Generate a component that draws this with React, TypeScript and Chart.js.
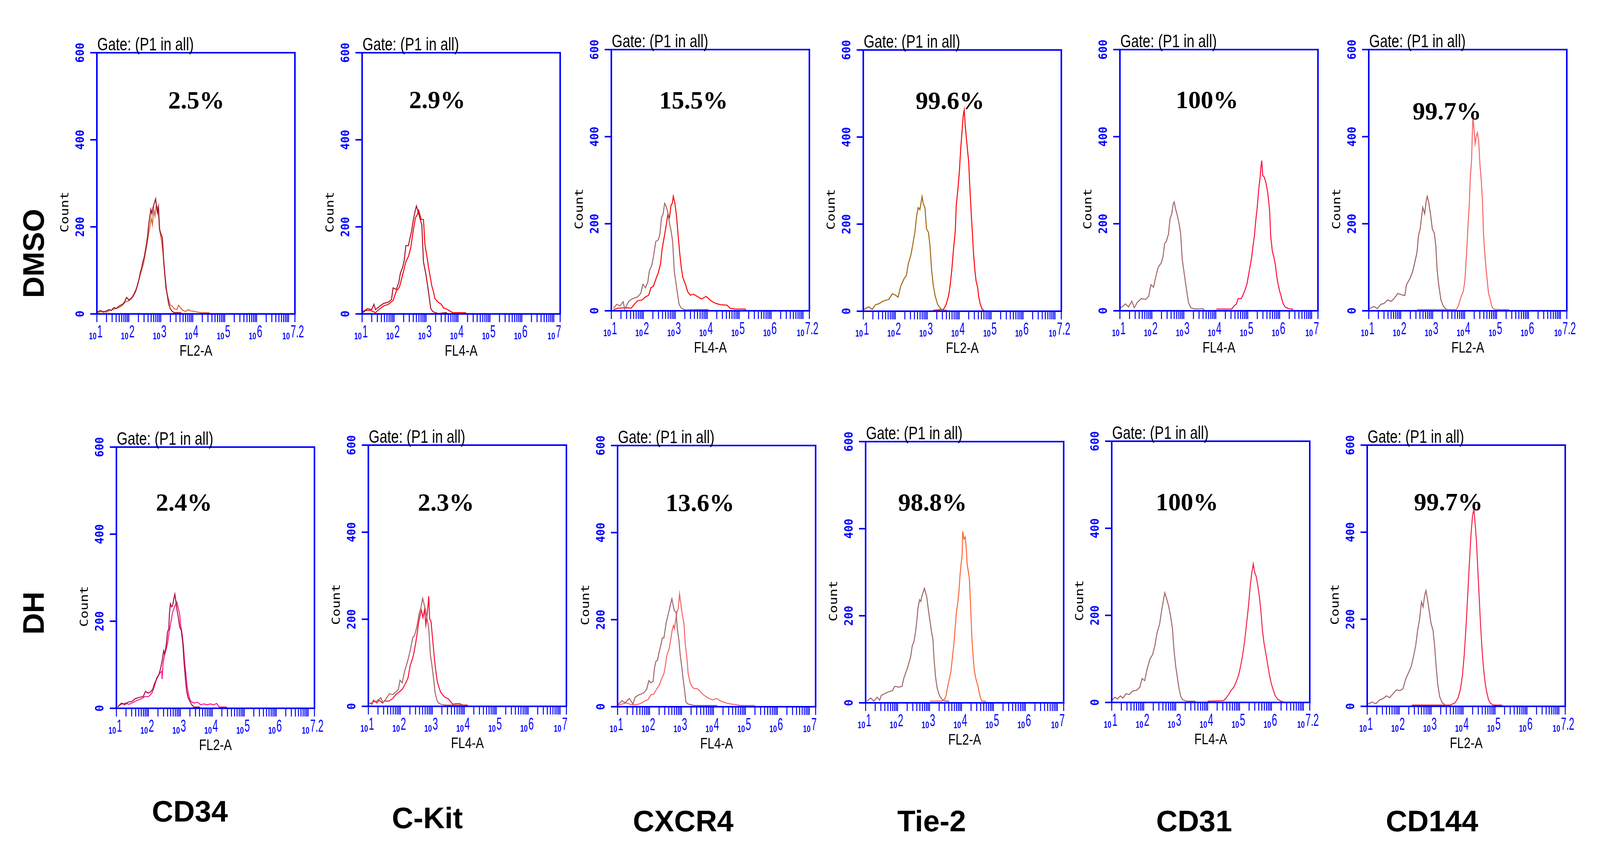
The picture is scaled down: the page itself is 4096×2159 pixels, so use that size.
import React, { useEffect, useRef } from "react";
import { Chart, registerables } from "chart.js";

Chart.register(...registerables);

type Pt = [number, number];

// ---------------- axis / labels ----------------
const yTicks = [0, 200, 400, 600];
const xDecades = [1, 2, 3, 4, 5, 6];
const xMinorFactors = [1, 2, 3, 4, 5, 6, 7, 8, 9];
const X_MIN = 1;
const X_MAX = 7.2;
const Y_MAX = 600;

const rowLabels = ["DMSO", "DH"];
const markers = ["CD34", "C-Kit", "CXCR4", "Tie-2", "CD31", "CD144"];
const percentsDmso = ["2.5%", "2.9%", "15.5%", "99.6%", "100%", "99.7%"];
const percentsDh = ["2.4%", "2.3%", "13.6%", "98.8%", "100%", "99.7%"];
const channels = ["FL2-A", "FL4-A", "FL4-A", "FL2-A", "FL4-A", "FL2-A"];
const endExpDmso = ["7.2", "7", "7.2", "7.2", "7", "7.2"];
const endExpDh = ["7.2", "7", "7", "7", "7.2", "7.2"];
const gateText = "Gate: (P1 in all)";
const yTitle = "Count";

// ---------------- histogram data  [log10(intensity), count] ----------------
// DMSO row
const cd34DmsoA: Pt[] = [[1.0,4],[1.12,8],[1.2,4],[1.27,6],[1.38,10],[1.45,8],[1.54,15],[1.6,12],[1.69,18],[1.8,22],[1.87,28],[1.93,38],[2.0,32],[2.06,35],[2.12,40],[2.17,47],[2.22,55],[2.27,65],[2.32,80],[2.36,95],[2.4,105],[2.44,120],[2.48,130],[2.53,150],[2.57,170],[2.59,180],[2.62,205],[2.66,225],[2.69,240],[2.72,230],[2.76,245],[2.8,255],[2.84,264],[2.87,245],[2.9,232],[2.93,245],[2.96,195],[3.0,185],[3.05,175],[3.09,125],[3.13,90],[3.17,60],[3.21,40],[3.25,22],[3.3,12],[3.36,6],[3.42,3],[3.6,3],[3.7,0]];
const cd34DmsoB: Pt[] = [[1.0,3],[1.1,5],[1.2,6],[1.3,4],[1.4,8],[1.5,10],[1.58,12],[1.7,15],[1.8,20],[1.9,28],[2.0,30],[2.08,35],[2.15,42],[2.22,52],[2.28,70],[2.34,85],[2.4,100],[2.46,115],[2.52,140],[2.57,160],[2.62,185],[2.66,200],[2.7,220],[2.74,205],[2.78,240],[2.82,225],[2.86,250],[2.9,245],[2.93,230],[2.97,190],[3.02,170],[3.07,140],[3.12,95],[3.16,60],[3.2,45],[3.24,35],[3.3,20],[3.36,18],[3.42,12],[3.5,10],[3.56,20],[3.62,14],[3.7,8],[3.78,6],[3.86,10],[3.94,7],[4.05,6],[4.15,4],[4.3,3],[4.5,3],[4.55,0]];

const ckitDmsoA: Pt[] = [[1.02,5],[1.17,12],[1.3,10],[1.37,22],[1.42,10],[1.52,16],[1.67,24],[1.82,27],[1.92,33],[1.97,60],[2.07,56],[2.15,73],[2.2,94],[2.27,107],[2.32,124],[2.37,157],[2.45,157],[2.5,174],[2.55,191],[2.6,214],[2.65,233],[2.7,248],[2.75,236],[2.82,217],[2.87,204],[2.92,120],[3.0,90],[3.05,65],[3.1,39],[3.15,12],[3.22,5],[3.38,1],[3.63,3],[3.68,0]];
const ckitDmsoB: Pt[] = [[1.02,3],[1.12,8],[1.27,8],[1.42,3],[1.52,10],[1.67,18],[1.82,22],[1.97,31],[2.07,52],[2.17,62],[2.27,90],[2.37,120],[2.45,132],[2.52,151],[2.6,191],[2.67,221],[2.72,227],[2.77,238],[2.85,217],[2.92,217],[2.97,157],[3.02,136],[3.08,107],[3.13,86],[3.18,65],[3.23,52],[3.28,35],[3.38,27],[3.48,22],[3.55,14],[3.68,10],[3.83,3],[4.23,3],[4.28,0]];

const cxcr4DmsoA: Pt[] = [[1.07,6],[1.17,15],[1.27,11],[1.37,21],[1.42,4],[1.54,21],[1.64,27],[1.82,32],[1.92,40],[1.99,61],[2.07,53],[2.14,66],[2.19,91],[2.27,106],[2.32,125],[2.39,159],[2.47,163],[2.52,175],[2.57,214],[2.62,222],[2.67,247],[2.72,239],[2.77,226],[2.82,201],[2.87,184],[2.92,159],[2.97,91],[3.02,66],[3.07,40],[3.12,15],[3.19,6],[3.32,2],[3.67,3],[4.02,3],[4.07,0]];
const cxcr4DmsoB: Pt[] = [[1.07,3],[1.22,6],[1.47,7],[1.62,6],[1.72,15],[1.82,23],[1.97,25],[2.07,32],[2.17,36],[2.24,53],[2.32,57],[2.42,78],[2.47,87],[2.54,108],[2.59,142],[2.64,163],[2.72,197],[2.77,222],[2.82,214],[2.87,243],[2.91,247],[2.94,263],[2.99,247],[3.04,218],[3.09,175],[3.14,133],[3.19,99],[3.24,76],[3.32,61],[3.39,44],[3.47,36],[3.57,38],[3.67,34],[3.82,27],[3.97,33],[4.12,23],[4.27,17],[4.42,14],[4.62,13],[4.72,6],[4.87,4],[5.19,4],[5.22,0]];

const tie2DmsoA: Pt[] = [[1.02,4],[1.17,10],[1.28,4],[1.38,15],[1.49,17],[1.59,22],[1.7,25],[1.8,27],[1.91,40],[2.01,37],[2.09,32],[2.17,57],[2.28,75],[2.35,82],[2.41,109],[2.49,129],[2.54,149],[2.62,184],[2.67,219],[2.72,238],[2.77,233],[2.84,263],[2.88,246],[2.93,238],[2.98,189],[3.04,181],[3.09,149],[3.14,94],[3.19,60],[3.25,35],[3.33,15],[3.43,5],[3.54,2],[3.61,2],[3.64,0]];
const tie2DmsoB: Pt[] = [[3.19,2],[3.51,4],[3.59,15],[3.67,35],[3.72,60],[3.77,94],[3.82,139],[3.88,184],[3.91,243],[3.96,278],[4.01,323],[4.05,373],[4.09,412],[4.13,450],[4.16,462],[4.19,427],[4.24,387],[4.3,343],[4.33,293],[4.38,224],[4.42,174],[4.45,134],[4.49,97],[4.53,70],[4.58,55],[4.61,35],[4.66,17],[4.72,5],[4.77,2],[4.8,0]];

const cd31DmsoA: Pt[] = [[1.02,7],[1.1,11],[1.17,16],[1.27,9],[1.37,22],[1.45,7],[1.55,20],[1.67,28],[1.8,26],[1.9,33],[1.97,60],[2.05,54],[2.15,87],[2.2,100],[2.3,111],[2.35,125],[2.4,155],[2.45,159],[2.52,176],[2.57,212],[2.62,222],[2.67,246],[2.7,250],[2.74,235],[2.8,218],[2.85,201],[2.9,178],[2.95,119],[3.0,92],[3.05,66],[3.1,41],[3.15,18],[3.22,7],[3.35,4],[3.6,5],[3.65,0]];
const cd31DmsoB: Pt[] = [[4.02,4],[4.5,4],[4.57,11],[4.65,16],[4.7,28],[4.8,28],[4.87,39],[4.92,49],[4.97,60],[5.02,79],[5.07,100],[5.12,121],[5.17,151],[5.21,172],[5.25,206],[5.29,231],[5.32,256],[5.35,282],[5.39,307],[5.41,328],[5.44,345],[5.47,311],[5.52,307],[5.57,294],[5.62,275],[5.66,250],[5.69,225],[5.72,172],[5.77,138],[5.82,123],[5.87,104],[5.91,79],[5.95,62],[6.0,45],[6.05,33],[6.1,18],[6.17,9],[6.27,5],[6.4,4],[6.42,0]];

const cd144DmsoA: Pt[] = [[1.03,5],[1.16,10],[1.27,5],[1.38,15],[1.48,17],[1.59,25],[1.7,22],[1.78,27],[1.91,40],[2.02,37],[2.13,35],[2.18,60],[2.29,74],[2.37,89],[2.45,114],[2.51,134],[2.56,174],[2.61,188],[2.69,238],[2.75,223],[2.8,253],[2.83,263],[2.88,248],[2.94,218],[2.99,188],[3.05,179],[3.1,149],[3.14,94],[3.19,60],[3.26,25],[3.34,10],[3.42,4],[3.5,0]];
const cd144DmsoB: Pt[] = [[2.51,3],[3.74,3],[3.8,10],[3.88,30],[3.96,45],[4.01,69],[4.06,129],[4.11,198],[4.15,248],[4.18,307],[4.22,347],[4.24,402],[4.26,446],[4.29,422],[4.33,384],[4.37,402],[4.4,409],[4.44,392],[4.48,337],[4.52,302],[4.56,253],[4.59,179],[4.63,134],[4.67,99],[4.71,69],[4.75,40],[4.79,30],[4.83,17],[4.87,7],[4.95,3],[5.38,3],[5.4,0]];

// DH row
const cd34DhA: Pt[] = [[1.04,3],[1.16,12],[1.26,8],[1.36,14],[1.49,16],[1.59,22],[1.71,25],[1.84,27],[1.91,39],[1.99,35],[2.06,37],[2.14,44],[2.19,56],[2.26,67],[2.34,79],[2.39,94],[2.44,113],[2.48,132],[2.51,124],[2.56,145],[2.6,175],[2.64,183],[2.66,217],[2.69,240],[2.73,233],[2.76,236],[2.8,252],[2.83,262],[2.86,246],[2.9,225],[2.94,208],[2.98,187],[3.03,179],[3.08,149],[3.12,103],[3.17,60],[3.2,39],[3.24,25],[3.29,18],[3.34,10],[3.42,3],[3.59,3],[3.64,0]];
const cd34DhB: Pt[] = [[1.04,3],[1.14,9],[1.29,12],[1.39,9],[1.54,14],[1.64,18],[1.79,22],[1.89,27],[2.01,27],[2.11,35],[2.19,50],[2.26,69],[2.34,79],[2.42,85],[2.43,67],[2.46,103],[2.51,124],[2.56,136],[2.61,153],[2.65,175],[2.69,191],[2.73,208],[2.76,221],[2.8,229],[2.84,236],[2.89,244],[2.93,232],[2.98,217],[3.01,191],[3.06,170],[3.1,141],[3.14,103],[3.18,77],[3.21,52],[3.26,31],[3.31,18],[3.37,14],[3.44,12],[3.54,14],[3.64,8],[3.74,10],[3.84,8],[3.94,10],[4.04,8],[4.14,11],[4.22,3],[4.44,3],[4.47,0]];

const ckitDhA: Pt[] = [[1.04,6],[1.16,10],[1.26,12],[1.39,20],[1.46,8],[1.56,18],[1.66,29],[1.76,27],[1.86,33],[1.94,39],[1.99,60],[2.06,54],[2.14,82],[2.19,94],[2.24,107],[2.31,128],[2.39,158],[2.44,162],[2.49,174],[2.54,191],[2.59,213],[2.64,225],[2.7,248],[2.74,236],[2.79,221],[2.84,200],[2.89,179],[2.94,120],[2.99,94],[3.04,65],[3.09,31],[3.14,16],[3.19,8],[3.26,5],[3.41,3],[3.96,3],[4.0,0]];
const ckitDhB: Pt[] = [[1.04,8],[1.11,5],[1.16,14],[1.26,8],[1.34,14],[1.44,8],[1.51,12],[1.64,12],[1.76,18],[1.86,27],[1.96,33],[2.06,39],[2.16,52],[2.24,65],[2.31,94],[2.39,111],[2.44,128],[2.49,149],[2.54,174],[2.57,191],[2.61,206],[2.66,221],[2.71,204],[2.76,223],[2.8,187],[2.85,217],[2.89,253],[2.92,200],[2.96,196],[3.0,164],[3.04,132],[3.07,107],[3.11,82],[3.16,56],[3.21,44],[3.26,33],[3.34,25],[3.41,20],[3.49,18],[3.56,12],[3.64,5],[3.76,6],[3.86,6],[3.96,3],[4.09,3],[4.12,0]];

const cxcr4DhA: Pt[] = [[1.03,6],[1.14,14],[1.23,9],[1.37,19],[1.48,6],[1.55,22],[1.66,27],[1.82,32],[1.91,40],[1.98,60],[2.04,55],[2.11,58],[2.16,91],[2.2,104],[2.25,107],[2.29,122],[2.36,143],[2.4,158],[2.45,158],[2.52,192],[2.56,205],[2.61,220],[2.66,236],[2.7,248],[2.74,233],[2.78,220],[2.83,218],[2.87,179],[2.92,153],[2.96,120],[3.01,91],[3.05,65],[3.1,37],[3.14,11],[3.21,6],[3.39,3],[4.1,3],[4.14,0]];
const cxcr4DhB: Pt[] = [[1.03,4],[1.14,6],[1.28,9],[1.41,5],[1.55,4],[1.66,6],[1.77,9],[1.86,14],[1.95,16],[2.04,27],[2.13,29],[2.22,40],[2.31,50],[2.38,65],[2.45,76],[2.49,91],[2.54,117],[2.61,132],[2.65,148],[2.71,176],[2.75,187],[2.78,179],[2.83,205],[2.86,218],[2.9,225],[2.94,259],[2.99,231],[3.03,210],[3.08,189],[3.12,143],[3.17,112],[3.21,76],[3.27,55],[3.32,47],[3.39,42],[3.48,42],[3.57,37],[3.66,29],[3.75,24],[3.86,19],[3.98,16],[4.11,19],[4.2,14],[4.31,11],[4.43,8],[4.56,6],[4.7,5],[4.83,3],[5.28,3],[5.3,0]];

const tie2DhA: Pt[] = [[1.04,4],[1.16,11],[1.26,4],[1.36,13],[1.44,6],[1.49,17],[1.59,21],[1.71,25],[1.84,28],[1.91,38],[2.04,36],[2.14,38],[2.19,55],[2.26,70],[2.31,80],[2.36,93],[2.41,106],[2.46,131],[2.51,140],[2.56,161],[2.6,186],[2.64,218],[2.69,237],[2.73,233],[2.76,245],[2.8,254],[2.84,263],[2.88,252],[2.91,245],[2.96,216],[3.01,190],[3.06,165],[3.11,144],[3.14,102],[3.19,59],[3.24,34],[3.29,21],[3.34,13],[3.42,6],[3.49,4],[3.59,4],[3.62,0]];
const tie2DhB: Pt[] = [[3.01,4],[3.39,4],[3.47,8],[3.52,17],[3.57,38],[3.62,55],[3.67,72],[3.72,106],[3.77,140],[3.8,169],[3.84,207],[3.88,228],[3.92,254],[3.95,288],[3.98,313],[4.02,338],[4.04,394],[4.08,376],[4.12,381],[4.15,355],[4.18,317],[4.22,300],[4.25,283],[4.29,216],[4.33,144],[4.37,102],[4.4,76],[4.44,59],[4.48,47],[4.52,38],[4.55,25],[4.59,13],[4.64,4],[4.74,4],[4.77,0]];

const cd31DhA: Pt[] = [[1.02,6],[1.1,12],[1.18,8],[1.27,15],[1.35,10],[1.45,20],[1.55,18],[1.65,26],[1.78,28],[1.88,35],[1.95,55],[2.03,50],[2.12,80],[2.2,100],[2.28,110],[2.35,130],[2.42,160],[2.5,180],[2.56,210],[2.62,235],[2.66,252],[2.72,238],[2.78,222],[2.84,200],[2.9,170],[2.95,120],[3.0,85],[3.05,60],[3.1,35],[3.16,14],[3.22,6],[3.35,3],[3.6,3],[3.65,0]];
const cd31DhB: Pt[] = [[4.0,3],[4.5,4],[4.58,10],[4.66,18],[4.74,28],[4.82,35],[4.9,48],[4.97,62],[5.04,85],[5.1,110],[5.16,140],[5.22,180],[5.28,220],[5.33,262],[5.38,295],[5.43,318],[5.47,300],[5.52,290],[5.57,270],[5.62,245],[5.67,210],[5.72,165],[5.77,135],[5.82,115],[5.88,88],[5.94,62],[6.0,42],[6.06,28],[6.12,15],[6.2,7],[6.3,3],[6.4,0]];

const cd144DhA: Pt[] = [[1.03,5],[1.15,10],[1.27,6],[1.38,14],[1.5,18],[1.6,24],[1.7,20],[1.8,28],[1.92,38],[2.02,36],[2.12,40],[2.2,62],[2.3,78],[2.38,92],[2.46,118],[2.52,140],[2.58,175],[2.64,200],[2.7,240],[2.75,228],[2.8,255],[2.84,266],[2.89,245],[2.95,215],[3.0,190],[3.06,175],[3.11,140],[3.16,90],[3.21,50],[3.27,22],[3.35,8],[3.45,3],[3.55,0]];
const cd144DhB: Pt[] = [[2.4,3],[3.6,3],[3.75,8],[3.85,20],[3.92,40],[3.98,70],[4.04,120],[4.1,190],[4.15,260],[4.2,330],[4.25,395],[4.3,440],[4.34,452],[4.38,420],[4.42,380],[4.46,320],[4.5,260],[4.54,200],[4.58,150],[4.62,105],[4.66,75],[4.7,50],[4.75,30],[4.8,15],[4.86,7],[4.95,3],[5.2,3],[5.25,0]];

const seriesDmso: Pt[][][] = [
  [cd34DmsoA, cd34DmsoB], [ckitDmsoA, ckitDmsoB], [cxcr4DmsoA, cxcr4DmsoB],
  [tie2DmsoA, tie2DmsoB], [cd31DmsoA, cd31DmsoB], [cd144DmsoA, cd144DmsoB],
];
const seriesDh: Pt[][][] = [
  [cd34DhA, cd34DhB], [ckitDhA, ckitDhB], [cxcr4DhA, cxcr4DhB],
  [tie2DhA, tie2DhB], [cd31DhA, cd31DhB], [cd144DhA, cd144DhB],
];

// ---------------- layout & style ----------------
const BOX_W = 507;
const BOX_H = 669;
const PAD_L = 120;
const PAD_T = 60;
const PAD_R = 50;
const PAD_B = 125;
const BLUE = "#0000ff";

const boxLeft = [
  [248, 927, 1565, 2210, 2867, 3504],
  [298, 943, 1581, 2216, 2846, 3500],
];
const boxTop = [
  [135, 135, 127, 128, 127, 127],
  [1145, 1140, 1141, 1131, 1130, 1140],
];
const pctPos = [
  [[0.502, 0.214], [0.379, 0.213], [0.415, 0.225], [0.438, 0.226], [0.44, 0.224], [0.395, 0.267]],
  [[0.341, 0.244], [0.392, 0.251], [0.416, 0.251], [0.338, 0.265], [0.38, 0.264], [0.41, 0.25]],
];
const colors = [
  [["#a0102c", "#d46a2e"], ["#a0102c", "#ff0000"], ["#a06464", "#ff0000"], ["#a0640f", "#ff0000"], ["#a06464", "#ff0a3c"], ["#9c6060", "#f86262"]],
  [["#a0103a", "#ff1493"], ["#a06464", "#ff0a32"], ["#a06464", "#f86060"], ["#a06464", "#ff6432"], ["#a06464", "#f51e46"], ["#a06464", "#f51e46"]],
];

function drawText(
  ctx: CanvasRenderingContext2D, text: string, x: number, y: number, font: string,
  color: string, align: CanvasTextAlign, opts: { width?: number; sx?: number; rot?: number; baseline?: CanvasTextBaseline } = {}
) {
  ctx.save();
  ctx.font = font;
  ctx.fillStyle = color;
  ctx.textBaseline = opts.baseline || "alphabetic";
  ctx.textAlign = align;
  const m = ctx.measureText(text).width;
  let sx = opts.sx ?? 1;
  if (opts.width) sx = opts.width / m;
  ctx.translate(x, y);
  if (opts.rot) ctx.rotate(opts.rot);
  ctx.scale(sx, 1);
  ctx.fillText(text, 0, 0);
  ctx.restore();
}

type PanelCfg = {
  left: number; top: number; data: Pt[][]; cols: string[]; pct: string;
  pctX: number; pctY: number; channel: string; endExp: string;
};

function Panel({ cfg }: { cfg: PanelCfg }) {
  const ref = useRef<HTMLCanvasElement>(null);
  const CW = BOX_W + PAD_L + PAD_R;
  const CH = BOX_H + PAD_T + PAD_B;
  useEffect(() => {
    if (!ref.current) return;
    const overlay = {
      id: "flowOverlay",
      afterDatasetsDraw(chart: any) {
        const ctx: CanvasRenderingContext2D = chart.ctx;
        const xs = chart.scales.x;
        const ys = chart.scales.y;
        const { left, right, top, bottom } = chart.chartArea;
        const w = right - left;
        const h = bottom - top;
        ctx.save();
        ctx.strokeStyle = BLUE;
        ctx.lineCap = "butt";
        // y ticks
        ctx.lineWidth = 4;
        for (const v of yTicks) {
          const y = ys.getPixelForValue(v);
          ctx.beginPath();
          ctx.moveTo(left - 17, y);
          ctx.lineTo(left, y);
          ctx.stroke();
        }
        // x ticks (log decades with minor ticks)
        ctx.lineWidth = 2.5;
        const tickVals: number[] = [];
        for (let n = 1; n <= 7; n++) {
          for (const k of xMinorFactors) {
            const v = n + Math.log10(k);
            if (v <= X_MAX + 1e-9) tickVals.push(v);
          }
        }
        tickVals.push(X_MAX);
        for (const v of tickVals) {
          const x = xs.getPixelForValue(v);
          ctx.beginPath();
          ctx.moveTo(x, bottom);
          ctx.lineTo(x, bottom + 21);
          ctx.stroke();
        }
        // box
        ctx.lineWidth = 4;
        ctx.strokeRect(left, top, w, h);
        ctx.restore();

        // y tick labels (rotated)
        for (const v of yTicks) {
          const y = ys.getPixelForValue(v);
          drawText(ctx, String(v), left - 41, y, "bold 30px 'DejaVu Sans Mono', monospace", BLUE, "center",
            { rot: -Math.PI / 2, baseline: "middle", sx: 0.95 });
        }
        // x tick labels 10^n
        const labelAt = (tx: number, exp: string) => {
          drawText(ctx, "10", tx - 1, bottom + 65, "bold 24px 'Liberation Sans', Arial", BLUE, "right", { sx: 0.72 });
          drawText(ctx, exp, tx + 1, bottom + 60, "44px 'Liberation Sans', Arial", BLUE, "left", { sx: 0.56 });
        };
        for (const n of xDecades) labelAt(xs.getPixelForValue(n), String(n));
        labelAt(xs.getPixelForValue(X_MAX) - 12, cfg.endExp);

        // axis titles
        drawText(ctx, cfg.channel, left + w / 2, bottom + 107, "38px 'Liberation Sans', Arial", "#000", "center", { width: 84 });
        drawText(ctx, yTitle, left - 80, top + 0.61 * h, "28px 'DejaVu Sans Mono', monospace", "#000", "center",
          { rot: -Math.PI / 2, baseline: "middle", width: 105 });
        // gate text
        drawText(ctx, gateText, left + 1, top - 6, "46px 'Liberation Sans', Arial", "#000", "left", { width: 247 });
        // percentage
        drawText(ctx, cfg.pct, left + cfg.pctX * w, top + cfg.pctY * h,
          "bold 64px 'Liberation Serif', 'Times New Roman', serif", "#000", "center");
      },
    };
    const chart = new Chart(ref.current, {
      type: "scatter",
      data: {
        datasets: cfg.data.map((series, i) => ({
          data: series.map(([x, y]) => ({ x, y })),
          showLine: true,
          borderColor: cfg.cols[i],
          backgroundColor: cfg.cols[i],
          borderWidth: 2.5,
          pointRadius: 0,
          pointHoverRadius: 0,
          tension: 0,
          fill: false,
        })),
      },
      options: {
        animation: false,
        responsive: false,
        devicePixelRatio: 1,
        events: [],
        layout: { padding: { left: PAD_L, top: PAD_T, right: PAD_R, bottom: PAD_B } },
        plugins: { legend: { display: false }, tooltip: { enabled: false }, title: { display: false } },
        scales: {
          x: { type: "linear", min: X_MIN, max: X_MAX, display: false },
          y: { type: "linear", min: 0, max: Y_MAX, display: false },
        },
      },
      plugins: [overlay],
    } as any);
    return () => chart.destroy();
  }, []);
  return (
    <canvas
      ref={ref}
      width={CW}
      height={CH}
      style={{ position: "absolute", left: cfg.left - PAD_L, top: cfg.top - PAD_T, width: CW, height: CH }}
    />
  );
}

const rowLabelPos = [[86, 649], [86, 1570]];
const colLabelPos = [[486, 2078], [1094, 2095], [1749, 2103], [2385, 2103], [3057, 2103], [3666, 2103]];

export default function App() {
  const panels: PanelCfg[] = [];
  for (let r = 0; r < 2; r++) {
    for (let c = 0; c < 6; c++) {
      panels.push({
        left: boxLeft[r][c],
        top: boxTop[r][c],
        data: r === 0 ? seriesDmso[c] : seriesDh[c],
        cols: colors[r][c],
        pct: r === 0 ? percentsDmso[c] : percentsDh[c],
        pctX: pctPos[r][c][0],
        pctY: pctPos[r][c][1],
        channel: channels[c],
        endExp: r === 0 ? endExpDmso[c] : endExpDh[c],
      });
    }
  }
  const labelStyle: React.CSSProperties = {
    position: "absolute",
    fontFamily: "'Liberation Sans', Arial, sans-serif",
    fontWeight: "bold",
    fontSize: 76,
    lineHeight: 1,
    whiteSpace: "nowrap",
    color: "#000",
  };
  return (
    <div style={{ position: "absolute", left: 0, top: 0, width: 4096, height: 2159, background: "#fff", overflow: "hidden" }}>
      {panels.map((p, i) => <Panel key={i} cfg={p} />)}
      {rowLabels.map((t, i) => (
        <div key={t} style={{ ...labelStyle, left: rowLabelPos[i][0], top: rowLabelPos[i][1], transform: "translate(-50%, -50%) rotate(-90deg)" }}>{t}</div>
      ))}
      {markers.map((t, i) => (
        <div key={t} style={{ ...labelStyle, left: colLabelPos[i][0], top: colLabelPos[i][1], transform: "translate(-50%, -50%)" }}>{t}</div>
      ))}
    </div>
  );
}
